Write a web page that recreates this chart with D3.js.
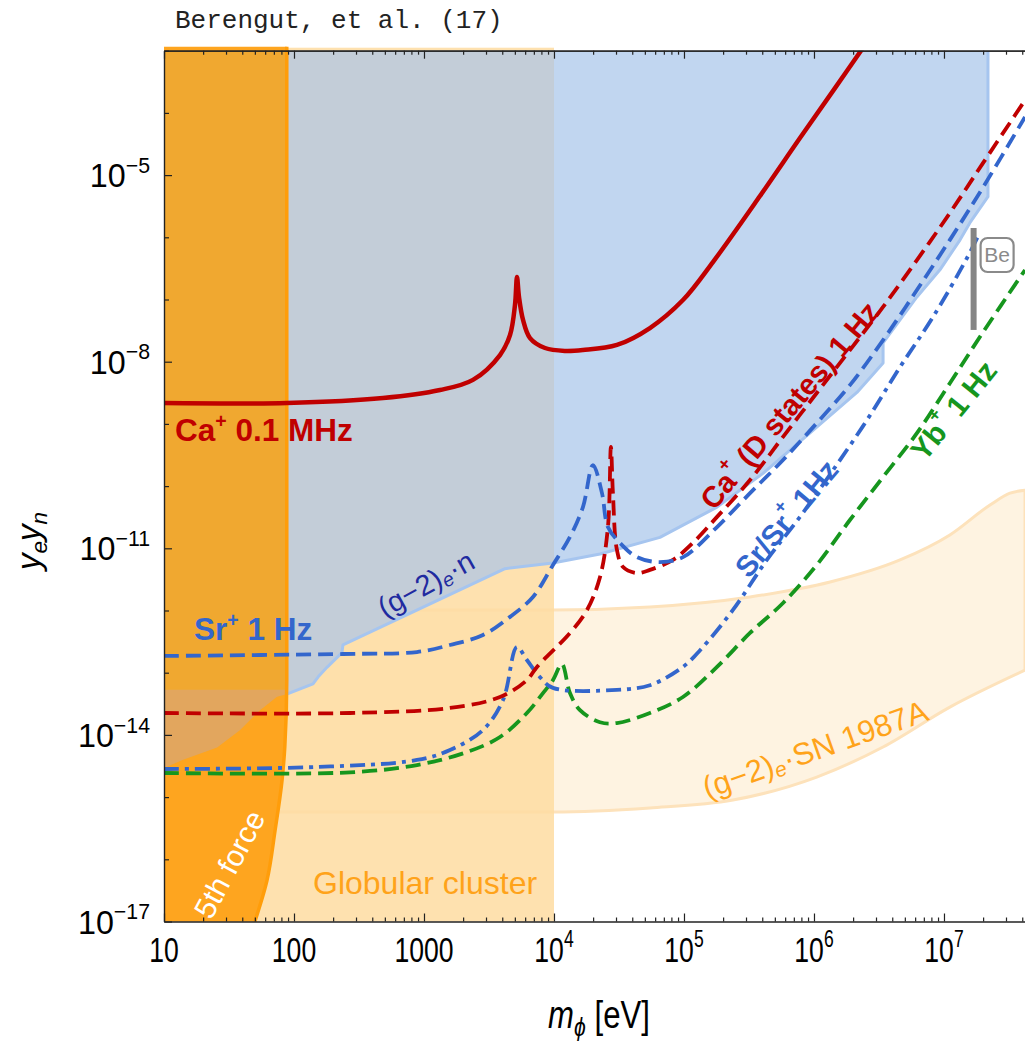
<!DOCTYPE html>
<html><head><meta charset="utf-8">
<script src="https://cdn.jsdelivr.net/npm/d3@7"></script>
<style>body{margin:0;background:#fff}svg{display:block}</style>
</head><body>
<svg id="c" width="1025" height="1041"></svg>
<script>
// ---------- tick labels ----------
const xTicksMajor = [10, 100, 1000, 1e4, 1e5, 1e6, 1e7];
const xTickLabels = [["10",""],["100",""],["1000",""],["10","4"],["10","5"],["10","6"],["10","7"]];
const yTicksMajor = [1e-5, 1e-8, 1e-11, 1e-14, 1e-17];
const yTickLabels = [["10","−5"],["10","−8"],["10","−11"],["10","−14"],["10","−17"]];

// ---------- excluded regions ----------
// (g-2)_e · n : lower boundary, then up to the top at the right edge
const gNBoundary = [[10,2.95e-15],[14,3.98e-15],[25.6,6.3e-15],[38.5,1.2e-14],[54.7,2.5e-14],[74,4.1e-14],
  [90,4.6e-14],[140,6.6e-14],[153,8.5e-14],[180,1.23e-13],[234,2.1e-13],[238,2.8e-13],[4200,4.7e-12],
  [9800,5.8e-12],[22600,8.1e-12],[65300,1.5e-11],[179500,4.6e-11],[405500,1.6e-10],[1.05e6,8.9e-10],
  [2.14e6,3.2e-9],[3.4e6,9.5e-9],[3.4e6,2.0e-8],[6.19e6,1.1e-7],[9.31e6,3.0e-7],[1.33e7,9.1e-7],
  [1.58e7,1.7e-6],[2.18e7,4.5e-6],[2.18e7,1e-3]];
// 5th force: right boundary (top to bottom)
const fifthForce = [[88,1e-3],[88,7.6e-14],[85,6.5e-15],[81,1.9e-15],[71.5,2.9e-16],[62,4.6e-17],[50,1e-17]];
// darker overlap inside the 5th-force band, below this coupling and above the (g-2)e·n edge
const bandOverlapTop = 5.3e-14;
// globular cluster: mass range
const globularRange = [10, 1e4];
// (g-2)_e · SN 1987A band
const snUpper = [[10,1.02e-12],[9820,1.02e-12],[54700,1.14e-12],[322000,1.65e-12],[1.33e6,2.87e-12],
  [4.59e6,6.5e-12],[1.11e7,1.64e-11],[2.26e7,4.97e-11],[3.22e7,7.7e-11],[4.2e7,8.6e-11]];
const snLower = [[10,5.75e-16],[9820,5.75e-16],[54700,6.7e-16],[238000,8.97e-16],[1.05e6,2.1e-15],
  [3.4e6,6.4e-15],[1.11e7,2.8e-14],[4.2e7,1.1e-13]];
// Be bar
const beBar = {m:1.69e7, lo:3.24e-8, hi:1.41e-6};

// ---------- projected sensitivities ----------
const ca01MHz = [[10,2.17e-9],[88,2.17e-9],[484,2.6e-9],[1327,3.5e-9],[2380,5.1e-9],[3843,1.28e-8],[4590,2.69e-8],
  [5012,8.2e-8],[5192,2.3e-7],[5380,1.1e-7],[5780,4.7e-8],[6540,2.4e-8],[8530,1.66e-8],[12160,1.49e-8],
  [16700,1.54e-8],[30500,1.86e-8],[54700,3.48e-8],[98200,9.8e-8],[167000,4.0e-7],[384000,4.6e-6],
  [780000,3.94e-5],[1.45e6,2.5e-4],[2.47e6,1.24e-3]];
const srPlus1Hz = [[10,1.86e-13],[238,2.0e-13],[883,2.15e-13],[1585,2.79e-13],[2844,4.04e-13],[4590,7.9e-13],
  [6890,1.65e-12],[9820,5.4e-12],[13270,1.52e-11],[16700,4.6e-11],[19950,2.18e-10],[23400,7.7e-11],
  [26000,2.2e-11],[32200,1.22e-11],[43500,7.2e-12],[65300,6.0e-12],[98200,7.2e-12],[179500,2.2e-11],
  [322000,7.7e-11],[578000,2.63e-10],[1.05e6,1.03e-9],[1.89e6,4.2e-9],[3.4e6,2.23e-8],[6.19e6,1.42e-7],
  [1.11e7,9.1e-7],[2.0e7,6.4e-6],[4.2e7,8.6e-5]];
const caDStates1Hz = [[10,2.25e-14],[270,2.25e-14],[1585,2.71e-14],[3843,4.07e-14],[6190,7.6e-14],[7400,1.24e-13],
  [13270,4.35e-13],[17950,1.02e-12],[22600,3.46e-12],[26000,2.2e-11],[27400,4.26e-10],[28400,7.7e-11],
  [30500,9.4e-12],[34000,5.0e-12],[43500,4.0e-12],[54700,4.5e-12],[82200,6.5e-12],[117000,1.22e-11],
  [179500,3.2e-11],[322000,1.25e-10],[578000,6.2e-10],[1.05e6,3.14e-9],[1.89e6,1.54e-8],[3.4e6,7.6e-8],
  [6.19e6,4.3e-7],[1.11e7,2.46e-6],[2.0e7,1.57e-5],[4.2e7,1.6e-4]];
const srSrPlus1Hz = [[10,2.83e-15],[150,3.05e-15],[883,3.95e-15],[1585,5.7e-15],[2844,1.2e-14],[4055,3.64e-14],
  [5190,2.59e-13],[6190,1.6e-13],[7800,8.5e-14],[9820,5.7e-14],[30500,5.3e-14],[54700,6.3e-14],[98200,1.24e-13],
  [133000,2.3e-13],[238000,1.02e-12],[434000,6.5e-12],[780000,3.2e-11],[1.4e6,1.8e-10],[2.56e6,1.16e-9],
  [4.59e6,8.2e-9],[8.22e6,5.2e-8],[1.5e7,4.6e-7],[1.83e7,1.05e-6]];
const ybPlus1Hz = [[10,2.44e-15],[270,2.5e-15],[883,3.28e-15],[2140,5.3e-15],[3843,9.25e-15],[6190,2.25e-14],
  [8230,4.7e-14],[9820,7.6e-14],[11500,1.38e-13],[13270,4.7e-14],[15850,2.5e-14],[22600,1.6e-14],[30500,1.55e-14],
  [54700,2.25e-14],[98200,4.07e-14],[179500,1.24e-13],[322000,4.35e-13],[578000,1.32e-12],[1.05e6,5.4e-12],
  [1.89e6,2.85e-11],[3.4e6,1.4e-10],[6.19e6,7.1e-10],[1.11e7,4.5e-9],[2.0e7,3.0e-8],[4.2e7,2.98e-7]];

// ---------- drawing ----------
const svg = d3.select("#c");
const x = d3.scaleLog().domain([10, 4.2e7]).range([164, 1025]);
const y = d3.scaleLog().domain([1e-17, 1e-3]).range([921.5, 50.7]);
const [X0, X1] = x.range(), [Y0, Y1] = y.range();
const FONT = "'Liberation Sans', Arial, Helvetica, sans-serif";

const defs = svg.append("defs");
defs.append("clipPath").attr("id","plot").append("rect")
  .attr("x",X0).attr("y",Y1).attr("width",X1-X0).attr("height",Y0-Y1);
defs.append("clipPath").attr("id","leftOf1e4").append("rect")
  .attr("x",X0).attr("y",Y1-4).attr("width",x(globularRange[1])-X0).attr("height",Y0-Y1+4);
defs.append("clipPath").attr("id","rightOf1e4").append("rect")
  .attr("x",x(globularRange[1])).attr("y",Y1).attr("width",X1-x(globularRange[1])).attr("height",Y0-Y1);
defs.append("clipPath").attr("id","belowOverlapTop").append("rect")
  .attr("x",X0).attr("y",y(bandOverlapTop)).attr("width",X1-X0).attr("height",Y0-y(bandOverlapTop));

const lineLin = d3.line().x(d=>x(d[0])).y(d=>y(d[1]));
const lineMono = d3.line().x(d=>x(d[0])).y(d=>y(d[1])).curve(d3.curveMonotoneX);
const lineSmooth = d3.line().x(d=>x(d[0])).y(d=>y(d[1])).curve(d3.curveCatmullRom.alpha(0.5));

const blueArea = gNBoundary.concat([[10,1e-3]]);
defs.append("clipPath").attr("id","blueClip").append("path").attr("d", lineLin(blueArea)+"Z");

// layers
const regions = svg.append("g");
const curveLayer = svg.append("g").attr("clip-path","url(#plot)");
const axesLayer = svg.append("g");
const textLayer = svg.append("g");

// SN 1987A band
regions.append("path").attr("clip-path","url(#plot)")
  .attr("d", lineMono(snUpper) + "L" + lineMono(snLower.slice().reverse()).slice(1) + "Z")
  .attr("fill","#fef3e1").attr("stroke","#fde2bb").attr("stroke-width",3);

// Globular cluster
regions.append("rect").attr("x",x(globularRange[0])).attr("y",Y1-3)
  .attr("width",x(globularRange[1])-x(globularRange[0])).attr("height",Y0-Y1+3)
  .attr("fill","#fedca2").attr("fill-opacity",0.86);

// (g-2)_e n region
regions.append("path").attr("d", lineLin(blueArea)+"Z").attr("fill","#c1d6f0").attr("clip-path","url(#rightOf1e4)");
regions.append("path").attr("d", lineLin(blueArea)+"Z").attr("fill","#c3cdd8").attr("clip-path","url(#leftOf1e4)");
regions.append("path").attr("clip-path","url(#plot)").attr("d", lineLin(gNBoundary)).attr("fill","none")
  .attr("stroke","#a6c5ef").attr("stroke-width",3).attr("stroke-linejoin","round");

// 5th force
const ffPath = d3.line().x(d=>x(d[0])).y(d=>y(d[1])).curve(d3.curveMonotoneY)(fifthForce);
const ffTopX = x(fifthForce[0][0]);
const ffArea = "M"+X0+","+(Y1-4)+"L"+ffTopX+","+(Y1-4)+"L"+ffPath.slice(1)+"L"+X0+","+Y0+"Z";
regions.append("path").attr("d", ffArea).attr("fill","#fea51f");
regions.append("g").attr("clip-path","url(#blueClip)").append("path").attr("d", ffArea).attr("fill","#f0a830");
regions.append("g").attr("clip-path","url(#belowOverlapTop)")
  .append("g").attr("clip-path","url(#blueClip)").append("path").attr("d", ffArea).attr("fill","#e2a65e");
regions.append("path").attr("d", "M"+ffTopX+","+(Y1-4)+"L"+ffPath.slice(1))
  .attr("fill","none").attr("stroke","#ff9d0a").attr("stroke-width",3.5);

// sensitivity curves
const curves = [
  {d:ca01MHz, c:"#c00000", w:4.5, dash:null},
  {d:ybPlus1Hz, c:"#16961e", w:3.8, dash:"15,7"},
  {d:srSrPlus1Hz, c:"#3366cc", w:3.8, dash:"15,6,4,6"},
  {d:caDStates1Hz, c:"#c00000", w:3.8, dash:"15,7"},
  {d:srPlus1Hz, c:"#3366cc", w:3.8, dash:"15,7"},
];
curves.forEach(cv=>{
  curveLayer.append("path").attr("d", lineSmooth(cv.d)).attr("fill","none")
    .attr("stroke",cv.c).attr("stroke-width",cv.w).attr("stroke-dasharray",cv.dash)
    .attr("stroke-linejoin","round");
});

// Be bar
curveLayer.append("line").attr("x1",x(beBar.m)).attr("x2",x(beBar.m)).attr("y1",y(beBar.lo)).attr("y2",y(beBar.hi))
  .attr("stroke","#858585").attr("stroke-width",6);
textLayer.append("rect").attr("x",x(beBar.m)+7).attr("y",y(beBar.hi)+10).attr("width",33).attr("height",34).attr("rx",7)
  .attr("fill","#fff").attr("stroke","#8a8a8a").attr("stroke-width",2.2);
textLayer.append("text").attr("x",x(beBar.m)+23.5).attr("y",y(beBar.hi)+34).attr("text-anchor","middle")
  .attr("font-family",FONT).attr("font-size",21).attr("fill","#8a8a8a").text("Be");

// axes
function styleAxis(g){ g.selectAll("path.domain").attr("stroke","#222").attr("stroke-width",1.2);
  g.selectAll(".tick line").attr("stroke","#222").attr("stroke-width",1.2); }
const xMinor = [];
xTicksMajor.forEach(d=>{ for(let k=2;k<=9;k++){ if(d*k<=4.2e7) xMinor.push(d*k);} });
const yMinor = d3.range(-17,-2).map(e=>Math.pow(10,e)).filter(v=>!yTicksMajor.includes(v));
axesLayer.append("g").attr("transform",`translate(0,${Y0})`)
  .call(d3.axisBottom(x).tickValues(xTicksMajor).tickSize(-8).tickSizeOuter(0).tickFormat("")).call(styleAxis);
axesLayer.append("g").attr("transform",`translate(0,${Y0})`)
  .call(d3.axisBottom(x).tickValues(xMinor).tickSize(-4).tickSizeOuter(0).tickFormat("")).call(styleAxis);
axesLayer.append("g").attr("transform",`translate(0,${Y1})`)
  .call(d3.axisTop(x).tickValues(xTicksMajor).tickSize(-8).tickSizeOuter(0).tickFormat("")).call(styleAxis);
axesLayer.append("g").attr("transform",`translate(0,${Y1})`)
  .call(d3.axisTop(x).tickValues(xMinor).tickSize(-4).tickSizeOuter(0).tickFormat("")).call(styleAxis);
axesLayer.append("g").attr("transform",`translate(${X0},0)`)
  .call(d3.axisLeft(y).tickValues(yTicksMajor).tickSize(-8).tickSizeOuter(0).tickFormat("")).call(styleAxis);
axesLayer.append("g").attr("transform",`translate(${X0},0)`)
  .call(d3.axisLeft(y).tickValues(yMinor).tickSize(-5).tickSizeOuter(0).tickFormat("")).call(styleAxis);

// rich text helper
function rich(sel, parts, fs){
  let cur = 0;
  parts.forEach(p=>{
    const target = p.sup ? -fs*0.42 : (p.sub ? fs*0.22 : 0);
    const ts = sel.append("tspan").text(p.t);
    if(target !== cur) ts.attr("dy", target-cur);
    if(p.sup) ts.attr("font-size", fs*(p.ss||0.62));
    if(p.sub) ts.attr("font-size", fs*0.68);
    if(p.it) ts.attr("font-style","italic");
    cur = target;
  });
  return sel;
}

// tick labels
xTicksMajor.forEach((v,i)=>{
  const t = textLayer.append("text").attr("transform",`translate(${x(v)},962) scale(0.76,1)`)
    .attr("text-anchor","middle").attr("font-family",FONT).attr("font-size",35).attr("fill","#000");
  const [b,s] = xTickLabels[i];
  rich(t, s ? [{t:b},{t:s,sup:true,ss:0.66}] : [{t:b}], 35);
});
yTicksMajor.forEach((v,i)=>{
  const t = textLayer.append("text").attr("transform",`translate(150,${y(v)+12}) scale(0.95,1)`)
    .attr("text-anchor","end").attr("font-family",FONT).attr("font-size",34).attr("fill","#000");
  const [b,s] = yTickLabels[i];
  rich(t, [{t:b},{t:s,sup:true,ss:0.66}], 34);
});

// axis titles
rich(textLayer.append("text").attr("transform","translate(40,541) rotate(-90)").attr("text-anchor","middle")
  .attr("font-family",FONT).attr("font-size",33).attr("font-style","italic"),
  [{t:"y"},{t:"e",sub:true},{t:"y"},{t:"n",sub:true}], 33);
rich(textLayer.append("text").attr("transform","translate(599,1028) scale(0.82,1)").attr("text-anchor","middle")
  .attr("font-family",FONT).attr("font-size",38),
  [{t:"m",it:true},{t:"ϕ",sub:true,it:true},{t:" [eV]"}], 38);

// title
textLayer.append("text").attr("x",175).attr("y",28).attr("font-family","'Liberation Mono','Courier New',monospace")
  .attr("font-size",26).attr("fill","#222").text("Berengut, et al. (17)");

// region / curve labels
function label(parts, opts){
  const t = textLayer.append("text").attr("transform",`translate(${opts.x},${opts.y}) rotate(${opts.r||0})`)
    .attr("text-anchor",opts.anchor||"middle").attr("font-family",FONT).attr("font-size",opts.fs)
    .attr("font-weight",opts.bold?"bold":"normal").attr("fill",opts.c);
  if(opts.central) t.attr("dominant-baseline","central");
  rich(t, parts, opts.fs);
}
label([{t:"Ca"},{t:"+",sup:true},{t:" 0.1 MHz"}], {x:175,y:441,fs:31.5,bold:true,c:"#c00000",anchor:"start"});
label([{t:"Sr"},{t:"+",sup:true},{t:" 1 Hz"}], {x:194,y:640,fs:31.5,bold:true,c:"#3366cc",anchor:"start"});
label([{t:"(g−2)"},{t:"e",sub:true,it:true},{t:"·n"}], {x:426,y:584,r:-29,fs:29,c:"#1f2aa0",central:true});
label([{t:"Ca"},{t:"+",sup:true},{t:" (D states) 1 Hz"}], {x:789,y:405,r:-50,fs:29.5,bold:true,c:"#c00000",central:true});
label([{t:"Sr/Sr"},{t:"+",sup:true},{t:" 1Hz"}], {x:786,y:518,r:-50,fs:29.5,bold:true,c:"#3366cc",central:true});
label([{t:"Yb"},{t:"+",sup:true},{t:" 1 Hz"}], {x:953,y:410,r:-51,fs:29.5,bold:true,c:"#16961e",central:true});
label([{t:"(g−2)"},{t:"e",sub:true,it:true},{t:"·SN 1987A"}], {x:815,y:749,r:-19.5,fs:31,c:"#ffa31a",central:true});
label([{t:"5th force"}], {x:229,y:864,r:-62,fs:30,c:"#ffffff",central:true});
label([{t:"Globular cluster"}], {x:313,y:894,fs:32,c:"#ffa31a",anchor:"start"});
</script>
</body></html>
